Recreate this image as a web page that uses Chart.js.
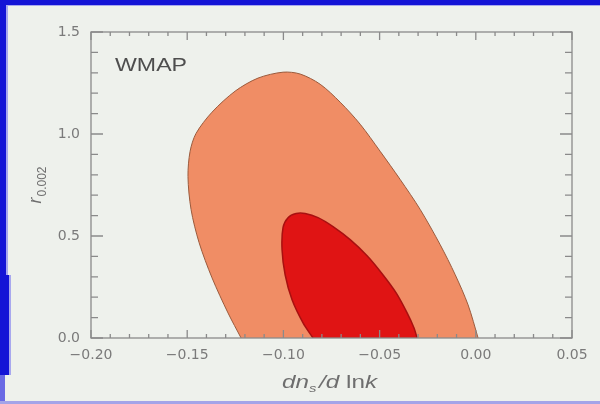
<!DOCTYPE html>
<html>
<head>
<meta charset="utf-8">
<title>WMAP r vs running</title>
<script src="https://cdn.jsdelivr.net/npm/chart.js@4.4.1/dist/chart.umd.min.js"></script>
<style>
    html, body { margin: 0; padding: 0; }
    body { width: 600px; height: 404px; background: #eef1ec; position: relative; overflow: hidden; }
    .band { position: absolute; background: #1414d6; }
    .soft { background: #a8a8ee; }
    #plot { position: absolute; left: 0; top: 0; filter: blur(0.5px); }
</style>
</head>
<body>
<div class="band" style="left:0; top:0; width:600px; height:5px;"></div>
<div class="band soft" style="left:0; top:5px; width:600px; height:1px;"></div>
<div class="band" style="left:0; top:0; width:6px; height:275px;"></div>
<div class="band soft" style="left:6px; top:6px; width:2px; height:269px;"></div>
<div class="band" style="left:0; top:275px; width:9px; height:100px;"></div>
<div class="band soft" style="left:9px; top:275px; width:2px; height:100px;"></div>
<div class="band soft" style="left:0; top:375px; width:5px; height:29px; background:#6a6ae4;"></div>
<div class="band soft" style="left:0; top:401px; width:600px; height:3px; background:#a4a4e8;"></div>
<canvas id="plot" width="600" height="404"></canvas>
<script>
// axis ticks
const xTickValues = [-0.20, -0.15, -0.10, -0.05, 0.00, 0.05];
const yTickValues = [0.0, 0.5, 1.0, 1.5];

// outer (95%) contour, traced clockwise from the lower left
const outerX = [-0.122, -0.1288, -0.1371, -0.1438, -0.148, -0.1496, -0.1485, -0.1454, -0.1371, -0.1251,
                -0.1132, -0.1002, -0.0913, -0.0809, -0.0705, -0.0601, -0.0497, -0.0393, -0.0289, -0.0185,
                -0.0107, -0.004, 0.0012];
const outerY = [0.00, 0.123, 0.295, 0.467, 0.63, 0.792, 0.915, 1.003, 1.107, 1.21,
                1.274, 1.303, 1.294, 1.244, 1.156, 1.048, 0.915, 0.777, 0.63, 0.457,
                0.31, 0.162, 0.00];

// inner (68%) contour
const innerX = [-0.0846, -0.0898, -0.0955, -0.0991, -0.1007, -0.1002, -0.0976, -0.0934, -0.0887,
                -0.082, -0.0742, -0.0653, -0.0565, -0.0487, -0.0414, -0.0357, -0.0321, -0.0305];
const innerY = [0.00, 0.074, 0.187, 0.31, 0.433, 0.541, 0.59, 0.61, 0.61,
                0.59, 0.546, 0.482, 0.403, 0.315, 0.221, 0.123, 0.049, 0.00];

const toPoints = (xs, ys) => xs.map((x, i) => ({ x: x, y: ys[i] }));

const FONT = "'Liberation Sans', Arial, sans-serif";
const TICK_FONT = "'DejaVu Sans', sans-serif";
const TEXT = '#7a7a7a';

// frame box with inward major/minor ticks on all four sides
const frameTicks = {
    id: 'frameTicks',
    afterDatasetsDraw(chart) {
        const { ctx, chartArea: a, scales: { x, y } } = chart;
        ctx.save();
        ctx.strokeStyle = '#8a8a8a';
        ctx.lineWidth = 1.3;
        ctx.strokeRect(a.left, a.top, a.right - a.left, a.bottom - a.top);
        ctx.beginPath();
        for (let i = 0; i <= 25; i++) {
            const px = x.getPixelForValue(-0.20 + i * 0.01);
            const len = i % 5 === 0 ? 8 : 4;
            ctx.moveTo(px, a.bottom); ctx.lineTo(px, a.bottom - len);
            ctx.moveTo(px, a.top); ctx.lineTo(px, a.top + len);
        }
        for (let i = 0; i <= 15; i++) {
            const py = y.getPixelForValue(i * 0.1);
            const len = i % 5 === 0 ? 12 : 7;
            ctx.moveTo(a.left, py); ctx.lineTo(a.left + len, py);
            ctx.moveTo(a.right, py); ctx.lineTo(a.right - len, py);
        }
        ctx.stroke();
        ctx.restore();
    }
};

// draws a run of text pieces (italic, subscripts) starting at x
function drawPieces(ctx, pieces, x, y) {
    pieces.forEach(p => {
        ctx.font = (p.italic ? 'italic ' : '') + p.size + 'px ' + FONT;
        ctx.fillText(p.t, x, y + (p.dy || 0));
        x += ctx.measureText(p.t).width + (p.gap || 0);
    });
}
function piecesWidth(ctx, pieces) {
    return pieces.reduce((w, p) => {
        ctx.font = (p.italic ? 'italic ' : '') + p.size + 'px ' + FONT;
        return w + ctx.measureText(p.t).width + (p.gap || 0);
    }, 0);
}

const labels = {
    id: 'labels',
    afterDraw(chart) {
        const { ctx, chartArea: a } = chart;
        ctx.save();
        ctx.textBaseline = 'alphabetic';

        // WMAP tag
        ctx.fillStyle = '#4e4e4e';
        ctx.font = '19px ' + FONT;
        const w = ctx.measureText('WMAP').width;
        ctx.save();
        ctx.translate(a.left + 24, a.top + 39);
        ctx.scale(72 / w, 1);
        ctx.fillText('WMAP', 0, 0);
        ctx.restore();

        // x title: dn_s / d ln k, stretched a little like the original
        ctx.fillStyle = '#6e6e6e';
        const xt = [
            { t: 'dn', italic: true, size: 18 },
            { t: 's', italic: true, size: 11, dy: 4, gap: 2 },
            { t: '/d ', italic: true, size: 18 },
            { t: 'ln', size: 18 },
            { t: 'k', italic: true, size: 18 }
        ];
        const xw = piecesWidth(ctx, xt);
        ctx.save();
        ctx.translate((a.left + a.right) / 2 - 2, 388);
        ctx.scale(95 / xw, 1);
        drawPieces(ctx, xt, -xw / 2, 0);
        ctx.restore();

        // y title: r_0.002, rotated
        const yt = [
            { t: 'r', italic: true, size: 18, gap: 1 },
            { t: '0.002', size: 12, dy: 5 }
        ];
        const yw = piecesWidth(ctx, yt);
        ctx.translate(41, (a.top + a.bottom) / 2);
        ctx.rotate(-Math.PI / 2);
        drawPieces(ctx, yt, -yw / 2, 0);

        ctx.restore();
    }
};

new Chart(document.getElementById('plot'), {
    type: 'scatter',
    data: {
        datasets: [
            {
                label: '68%',
                data: toPoints(innerX, innerY),
                showLine: true,
                fill: 'shape',
                backgroundColor: '#e01414',
                borderColor: '#a81010',
                borderWidth: 1.5,
                tension: 0.3,
                pointRadius: 0
            },
            {
                label: '95%',
                data: toPoints(outerX, outerY),
                showLine: true,
                fill: 'shape',
                backgroundColor: '#f08d65',
                borderColor: '#9a5a3c',
                borderWidth: 1,
                tension: 0.3,
                pointRadius: 0
            }
        ]
    },
    options: {
        responsive: false,
        devicePixelRatio: 1,
        animation: false,
        layout: { padding: { top: 32, right: 28, left: 0, bottom: 0 } },
        plugins: { legend: { display: false }, tooltip: { enabled: false } },
        scales: {
            x: {
                type: 'linear',
                min: -0.20,
                max: 0.05,
                afterBuildTicks: s => { s.ticks = xTickValues.map(v => ({ value: v })); },
                afterFit: s => { s.height = 66; },
                grid: { display: false, drawTicks: false },
                border: { display: false },
                ticks: {
                    autoSkip: false,
                    maxRotation: 0,
                    padding: 9,
                    color: TEXT,
                    font: { family: TICK_FONT, size: 14 },
                    callback: v => (v < -1e-9 ? '\u2212' : '') + Math.abs(v).toFixed(2)
                }
            },
            y: {
                type: 'linear',
                min: 0,
                max: 1.5,
                afterBuildTicks: s => { s.ticks = yTickValues.map(v => ({ value: v })); },
                afterFit: s => { s.width = 91; },
                grid: { display: false, drawTicks: false },
                border: { display: false },
                ticks: {
                    padding: 11,
                    color: TEXT,
                    font: { family: TICK_FONT, size: 14 },
                    callback: v => v.toFixed(1)
                }
            }
        }
    },
    plugins: [frameTicks, labels]
});
</script>
</body>
</html>
